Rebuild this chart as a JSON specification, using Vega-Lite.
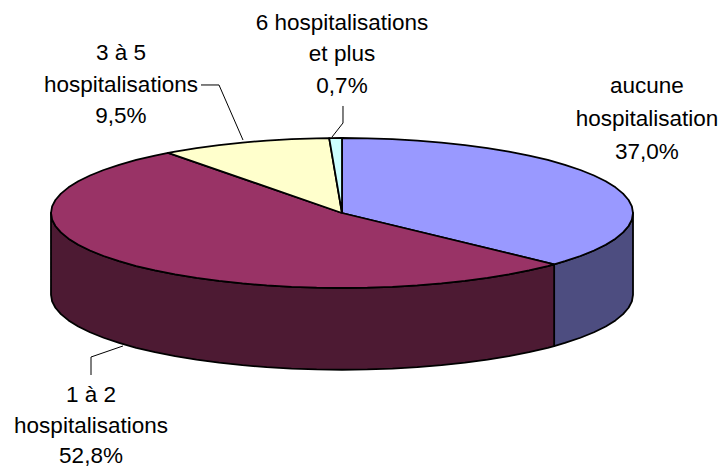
{
"$schema":"https://vega.github.io/schema/vega-lite/v6.json",
"width":720,"height":468,
"autosize":{"type":"none"},
"padding":0,
"background":"white",
"view":{"stroke":null},
"resolve":{"scale":{"fill":"independent"}},
"datasets":{
"top":[
{"s":"aucune hospitalisation","o":0,"x":0,"y":0},{"s":"aucune hospitalisation","o":1,"x":0,"y":1},{"s":"aucune hospitalisation","o":2,"x":0.0872,"y":0.9962},{"s":"aucune hospitalisation","o":3,"x":0.1736,"y":0.9848},{"s":"aucune hospitalisation","o":4,"x":0.2588,"y":0.9659},{"s":"aucune hospitalisation","o":5,"x":0.342,"y":0.9397},{"s":"aucune hospitalisation","o":6,"x":0.4226,"y":0.9063},{"s":"aucune hospitalisation","o":7,"x":0.5,"y":0.866},{"s":"aucune hospitalisation","o":8,"x":0.5736,"y":0.8192},{"s":"aucune hospitalisation","o":9,"x":0.6428,"y":0.766},{"s":"aucune hospitalisation","o":10,"x":0.7071,"y":0.7071},{"s":"aucune hospitalisation","o":11,"x":0.766,"y":0.6428},{"s":"aucune hospitalisation","o":12,"x":0.8192,"y":0.5736},{"s":"aucune hospitalisation","o":13,"x":0.866,"y":0.5},{"s":"aucune hospitalisation","o":14,"x":0.9063,"y":0.4226},{"s":"aucune hospitalisation","o":15,"x":0.9397,"y":0.342},{"s":"aucune hospitalisation","o":16,"x":0.9659,"y":0.2588},{"s":"aucune hospitalisation","o":17,"x":0.9848,"y":0.1736},{"s":"aucune hospitalisation","o":18,"x":0.9962,"y":0.0872},{"s":"aucune hospitalisation","o":19,"x":1,"y":0},{"s":"aucune hospitalisation","o":20,"x":0.9962,"y":-0.0872},{"s":"aucune hospitalisation","o":21,"x":0.9848,"y":-0.1736},{"s":"aucune hospitalisation","o":22,"x":0.9659,"y":-0.2588},{"s":"aucune hospitalisation","o":23,"x":0.9397,"y":-0.342},{"s":"aucune hospitalisation","o":24,"x":0.9063,"y":-0.4226},{"s":"aucune hospitalisation","o":25,"x":0.866,"y":-0.5},{"s":"aucune hospitalisation","o":26,"x":0.8192,"y":-0.5736},{"s":"aucune hospitalisation","o":27,"x":0.766,"y":-0.6428},{"s":"aucune hospitalisation","o":28,"x":0.729,"y":-0.6845},{"s":"aucune hospitalisation","o":29,"x":0,"y":0},
{"s":"1 à 2 hospitalisations","o":0,"x":0,"y":0},{"s":"1 à 2 hospitalisations","o":1,"x":0.729,"y":-0.6845},{"s":"1 à 2 hospitalisations","o":2,"x":0.7071,"y":-0.7071},{"s":"1 à 2 hospitalisations","o":3,"x":0.6428,"y":-0.766},{"s":"1 à 2 hospitalisations","o":4,"x":0.5736,"y":-0.8192},{"s":"1 à 2 hospitalisations","o":5,"x":0.5,"y":-0.866},{"s":"1 à 2 hospitalisations","o":6,"x":0.4226,"y":-0.9063},{"s":"1 à 2 hospitalisations","o":7,"x":0.342,"y":-0.9397},{"s":"1 à 2 hospitalisations","o":8,"x":0.2588,"y":-0.9659},{"s":"1 à 2 hospitalisations","o":9,"x":0.1736,"y":-0.9848},{"s":"1 à 2 hospitalisations","o":10,"x":0.0872,"y":-0.9962},{"s":"1 à 2 hospitalisations","o":11,"x":0,"y":-1},{"s":"1 à 2 hospitalisations","o":12,"x":-0.0872,"y":-0.9962},{"s":"1 à 2 hospitalisations","o":13,"x":-0.1736,"y":-0.9848},{"s":"1 à 2 hospitalisations","o":14,"x":-0.2588,"y":-0.9659},{"s":"1 à 2 hospitalisations","o":15,"x":-0.342,"y":-0.9397},{"s":"1 à 2 hospitalisations","o":16,"x":-0.4226,"y":-0.9063},{"s":"1 à 2 hospitalisations","o":17,"x":-0.5,"y":-0.866},{"s":"1 à 2 hospitalisations","o":18,"x":-0.5736,"y":-0.8192},{"s":"1 à 2 hospitalisations","o":19,"x":-0.6428,"y":-0.766},{"s":"1 à 2 hospitalisations","o":20,"x":-0.7071,"y":-0.7071},{"s":"1 à 2 hospitalisations","o":21,"x":-0.766,"y":-0.6428},{"s":"1 à 2 hospitalisations","o":22,"x":-0.8192,"y":-0.5736},{"s":"1 à 2 hospitalisations","o":23,"x":-0.866,"y":-0.5},{"s":"1 à 2 hospitalisations","o":24,"x":-0.9063,"y":-0.4226},{"s":"1 à 2 hospitalisations","o":25,"x":-0.9397,"y":-0.342},{"s":"1 à 2 hospitalisations","o":26,"x":-0.9659,"y":-0.2588},{"s":"1 à 2 hospitalisations","o":27,"x":-0.9848,"y":-0.1736},{"s":"1 à 2 hospitalisations","o":28,"x":-0.9962,"y":-0.0872},{"s":"1 à 2 hospitalisations","o":29,"x":-1,"y":0},{"s":"1 à 2 hospitalisations","o":30,"x":-0.9962,"y":0.0872},{"s":"1 à 2 hospitalisations","o":31,"x":-0.9848,"y":0.1736},{"s":"1 à 2 hospitalisations","o":32,"x":-0.9659,"y":0.2588},{"s":"1 à 2 hospitalisations","o":33,"x":-0.9397,"y":0.342},{"s":"1 à 2 hospitalisations","o":34,"x":-0.9063,"y":0.4226},{"s":"1 à 2 hospitalisations","o":35,"x":-0.866,"y":0.5},{"s":"1 à 2 hospitalisations","o":36,"x":-0.8192,"y":0.5736},{"s":"1 à 2 hospitalisations","o":37,"x":-0.766,"y":0.6428},{"s":"1 à 2 hospitalisations","o":38,"x":-0.7071,"y":0.7071},{"s":"1 à 2 hospitalisations","o":39,"x":-0.6428,"y":0.766},{"s":"1 à 2 hospitalisations","o":40,"x":-0.5976,"y":0.8018},{"s":"1 à 2 hospitalisations","o":41,"x":0,"y":0},
{"s":"3 à 5 hospitalisations","o":0,"x":0,"y":0},{"s":"3 à 5 hospitalisations","o":1,"x":-0.5976,"y":0.8018},{"s":"3 à 5 hospitalisations","o":2,"x":-0.5736,"y":0.8192},{"s":"3 à 5 hospitalisations","o":3,"x":-0.5,"y":0.866},{"s":"3 à 5 hospitalisations","o":4,"x":-0.4226,"y":0.9063},{"s":"3 à 5 hospitalisations","o":5,"x":-0.342,"y":0.9397},{"s":"3 à 5 hospitalisations","o":6,"x":-0.2588,"y":0.9659},{"s":"3 à 5 hospitalisations","o":7,"x":-0.1736,"y":0.9848},{"s":"3 à 5 hospitalisations","o":8,"x":-0.0872,"y":0.9962},{"s":"3 à 5 hospitalisations","o":9,"x":-0.044,"y":0.999},{"s":"3 à 5 hospitalisations","o":10,"x":0,"y":0},
{"s":"6 hospitalisations et plus","o":0,"x":0,"y":0},{"s":"6 hospitalisations et plus","o":1,"x":-0.044,"y":0.999},{"s":"6 hospitalisations et plus","o":2,"x":0,"y":1},{"s":"6 hospitalisations et plus","o":3,"x":0,"y":0}
],
"side":[
{"s":"aucune hospitalisation","x":1,"y":0,"y2":-1.09},{"s":"aucune hospitalisation","x":0.9962,"y":-0.0872,"y2":-1.1772},{"s":"aucune hospitalisation","x":0.9848,"y":-0.1736,"y2":-1.2636},{"s":"aucune hospitalisation","x":0.9659,"y":-0.2588,"y2":-1.3488},{"s":"aucune hospitalisation","x":0.9397,"y":-0.342,"y2":-1.432},{"s":"aucune hospitalisation","x":0.9063,"y":-0.4226,"y2":-1.5126},{"s":"aucune hospitalisation","x":0.866,"y":-0.5,"y2":-1.59},{"s":"aucune hospitalisation","x":0.8192,"y":-0.5736,"y2":-1.6636},{"s":"aucune hospitalisation","x":0.766,"y":-0.6428,"y2":-1.7328},{"s":"aucune hospitalisation","x":0.729,"y":-0.6845,"y2":-1.7745},
{"s":"1 à 2 hospitalisations","x":0.729,"y":-0.6845,"y2":-1.7745},{"s":"1 à 2 hospitalisations","x":0.7071,"y":-0.7071,"y2":-1.7971},{"s":"1 à 2 hospitalisations","x":0.6428,"y":-0.766,"y2":-1.856},{"s":"1 à 2 hospitalisations","x":0.5736,"y":-0.8192,"y2":-1.9092},{"s":"1 à 2 hospitalisations","x":0.5,"y":-0.866,"y2":-1.956},{"s":"1 à 2 hospitalisations","x":0.4226,"y":-0.9063,"y2":-1.9963},{"s":"1 à 2 hospitalisations","x":0.342,"y":-0.9397,"y2":-2.0297},{"s":"1 à 2 hospitalisations","x":0.2588,"y":-0.9659,"y2":-2.0559},{"s":"1 à 2 hospitalisations","x":0.1736,"y":-0.9848,"y2":-2.0748},{"s":"1 à 2 hospitalisations","x":0.0872,"y":-0.9962,"y2":-2.0862},{"s":"1 à 2 hospitalisations","x":0,"y":-1,"y2":-2.09},{"s":"1 à 2 hospitalisations","x":-0.0872,"y":-0.9962,"y2":-2.0862},{"s":"1 à 2 hospitalisations","x":-0.1736,"y":-0.9848,"y2":-2.0748},{"s":"1 à 2 hospitalisations","x":-0.2588,"y":-0.9659,"y2":-2.0559},{"s":"1 à 2 hospitalisations","x":-0.342,"y":-0.9397,"y2":-2.0297},{"s":"1 à 2 hospitalisations","x":-0.4226,"y":-0.9063,"y2":-1.9963},{"s":"1 à 2 hospitalisations","x":-0.5,"y":-0.866,"y2":-1.956},{"s":"1 à 2 hospitalisations","x":-0.5736,"y":-0.8192,"y2":-1.9092},{"s":"1 à 2 hospitalisations","x":-0.6428,"y":-0.766,"y2":-1.856},{"s":"1 à 2 hospitalisations","x":-0.7071,"y":-0.7071,"y2":-1.7971},{"s":"1 à 2 hospitalisations","x":-0.766,"y":-0.6428,"y2":-1.7328},{"s":"1 à 2 hospitalisations","x":-0.8192,"y":-0.5736,"y2":-1.6636},{"s":"1 à 2 hospitalisations","x":-0.866,"y":-0.5,"y2":-1.59},{"s":"1 à 2 hospitalisations","x":-0.9063,"y":-0.4226,"y2":-1.5126},{"s":"1 à 2 hospitalisations","x":-0.9397,"y":-0.342,"y2":-1.432},{"s":"1 à 2 hospitalisations","x":-0.9659,"y":-0.2588,"y2":-1.3488},{"s":"1 à 2 hospitalisations","x":-0.9848,"y":-0.1736,"y2":-1.2636},{"s":"1 à 2 hospitalisations","x":-0.9962,"y":-0.0872,"y2":-1.1772},{"s":"1 à 2 hospitalisations","x":-1,"y":0,"y2":-1.09}
],
"leaders":[
{"s":"3 à 5 hospitalisations","o":0,"x":-0.4845,"y":1.707},{"s":"3 à 5 hospitalisations","o":1,"x":-0.4227,"y":1.707},{"s":"3 à 5 hospitalisations","o":2,"x":-0.3402,"y":0.973},
{"s":"6 hospitalisations et plus","o":0,"x":0.0034,"y":1.427},{"s":"6 hospitalisations et plus","o":1,"x":0.0034,"y":1.2},{"s":"6 hospitalisations et plus","o":2,"x":-0.0344,"y":1.013},
{"s":"1 à 2 hospitalisations","o":0,"x":-0.8625,"y":-2.16},{"s":"1 à 2 hospitalisations","o":1,"x":-0.8625,"y":-1.92},{"s":"1 à 2 hospitalisations","o":2,"x":-0.7526,"y":-1.773}
],
"labels":[
{"label":"aucune","x":1.048,"y":1.69},
{"label":"hospitalisation","x":1.048,"y":1.253},
{"label":"37,0%","x":1.048,"y":0.813},
{"label":"1 à 2","x":-0.8625,"y":-2.42},
{"label":"hospitalisations","x":-0.8625,"y":-2.84},
{"label":"52,8%","x":-0.8625,"y":-3.235},
{"label":"3 à 5","x":-0.7595,"y":2.133},
{"label":"hospitalisations","x":-0.7595,"y":1.707},
{"label":"9,5%","x":-0.7595,"y":1.293},
{"label":"6 hospitalisations","x":0,"y":2.533},
{"label":"et plus","x":0,"y":2.12},
{"label":"0,7%","x":0,"y":1.693}
]
},
"encoding":{
"x":{"field":"x","type":"quantitative","axis":null,"scale":{"domain":[-1.17526,1.29897],"nice":false,"zero":false}},
"y":{"field":"y","type":"quantitative","axis":null,"scale":{"domain":[-3.4,2.84],"nice":false,"zero":false}}
},
"layer":[
{"data":{"name":"side"},
 "mark":{"type":"area","stroke":"black","strokeWidth":1.8,"strokeJoin":"round","opacity":1,"fillOpacity":1},
 "encoding":{
  "y2":{"field":"y2"},
  "fill":{"field":"s","type":"nominal","legend":null,"scale":{"domain":["aucune hospitalisation","1 à 2 hospitalisations"],"range":["#4D4D80","#4D1A33"]}}
 }},
{"data":{"name":"top"},
 "mark":{"type":"line","stroke":"black","strokeWidth":1.8,"strokeJoin":"round","fillOpacity":1},
 "encoding":{
  "order":{"field":"o","type":"quantitative"},
  "fill":{"field":"s","type":"nominal","legend":null,"scale":{"domain":["aucune hospitalisation","1 à 2 hospitalisations","3 à 5 hospitalisations","6 hospitalisations et plus"],"range":["#9999FF","#993366","#FFFFCC","#CCFFFF"]}}
 }},
{"data":{"name":"leaders"},
 "mark":{"type":"line","stroke":"black","strokeWidth":1},
 "encoding":{
  "order":{"field":"o","type":"quantitative"},
  "detail":{"field":"s"}
 }},
{"data":{"name":"labels"},
 "mark":{"type":"text","font":"Liberation Sans","fontSize":22.5,"align":"center","baseline":"middle","color":"black"},
 "encoding":{"text":{"field":"label"}}}
]
}
